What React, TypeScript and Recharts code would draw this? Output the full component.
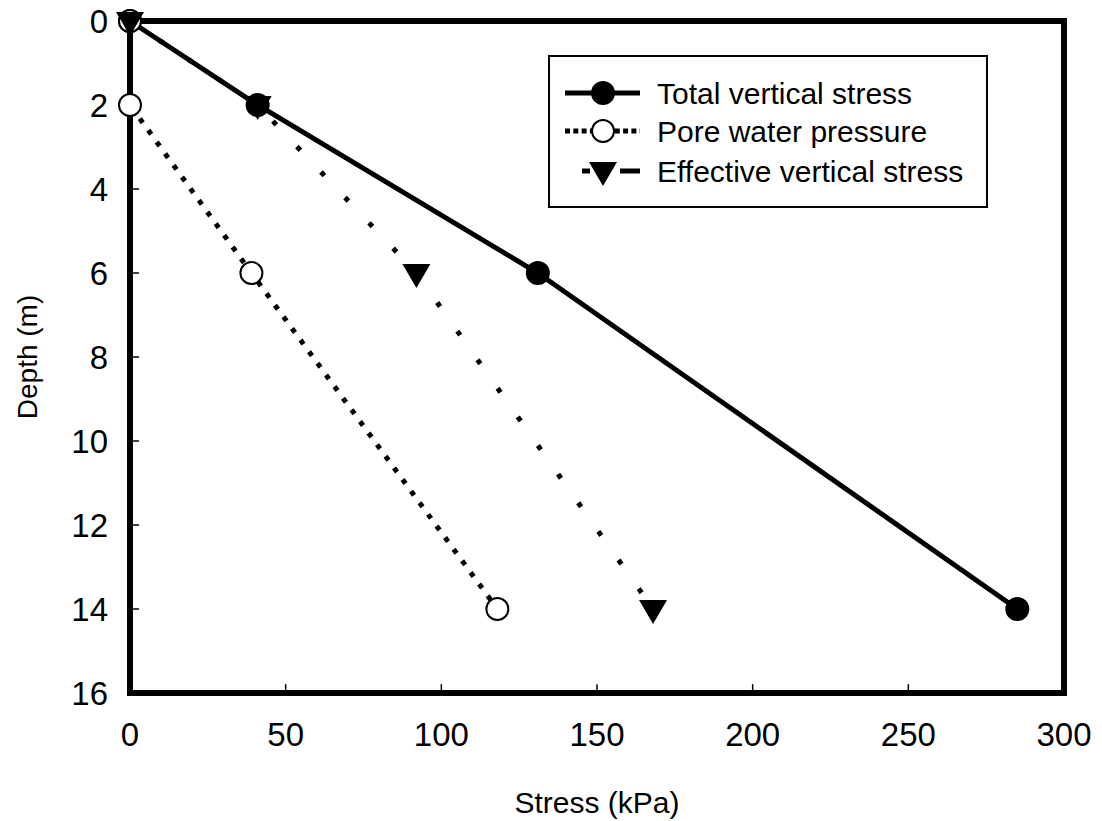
import React from 'react';
import { ScatterChart, Scatter, XAxis, YAxis, ReferenceLine, Legend } from 'recharts';

const FONT = '"Liberation Sans", Arial, Helvetica, sans-serif';

// Depth of each reading (m)
const depths = [0, 2, 6, 14];
// Stresses (kPa)
const totalVertical = [0, 41, 131, 285];
const poreWater = [0, 0, 39, 118];
const effectiveVertical = [0, 41, 92, 168];

const stressTicks = [0, 50, 100, 150, 200, 250, 300];
const depthTicks = [0, 2, 4, 6, 8, 10, 12, 14, 16];

const seriesNames = ['Total vertical stress', 'Pore water pressure', 'Effective vertical stress'];

const toPoints = (vals: number[]) => vals.map((v, i) => ({ x: v, y: depths[i] }));
const totalData = toPoints(totalVertical);
const poreData = toPoints(poreWater);
const effectiveData = toPoints(effectiveVertical);

// inward tick-mark length, in axis units (about 9 px)
const X_TICK_LEN = 0.21;
const Y_TICK_LEN = 2.9;

const FilledCircle = (p: any) => <circle cx={p.cx} cy={p.cy} r={12} fill="#000" />;
const OpenCircle = (p: any) => (
  <circle cx={p.cx} cy={p.cy} r={11} fill="#fff" stroke="#000" strokeWidth={2} />
);
const DownTriangle = (p: any) => (
  <path
    d={`M${p.cx - 14},${p.cy - 9} L${p.cx + 14},${p.cy - 9} L${p.cx},${p.cy + 15} Z`}
    fill="#000"
  />
);

const XTick = (props: any) => {
  const { x, y, payload } = props;
  return (
    <text x={x} y={y} dy="0.71em" textAnchor="middle" fontSize={33} fontFamily={FONT} fill="#000">
      {payload.value}
    </text>
  );
};

const YTick = (props: any) => {
  const { x, y, payload } = props;
  return (
    <text x={x} y={y} dy="0.36em" textAnchor="end" fontSize={33} fontFamily={FONT} fill="#000">
      {payload.value}
    </text>
  );
};

const XLabel = (props: any) => {
  const vb = props.viewBox || {};
  return (
    <text
      x={vb.x + vb.width / 2}
      y={vb.y + 109}
      dy="0.36em"
      textAnchor="middle"
      fontSize={30}
      fontFamily={FONT}
      fill="#000"
    >
      Stress (kPa)
    </text>
  );
};

const YLabel = (props: any) => {
  const vb = props.viewBox || {};
  const cx = vb.x + 27;
  const cy = vb.y + vb.height / 2;
  return (
    <text
      x={cx}
      y={cy}
      dy="0.36em"
      textAnchor="middle"
      fontSize={28}
      fontFamily={FONT}
      fill="#000"
      transform={`rotate(-90, ${cx}, ${cy})`}
    >
      Depth (m)
    </text>
  );
};

const LegendBox = () => {
  const rows = [38, 76, 116];
  return (
    <svg width={440} height={153} style={{ display: 'block' }}>
      <rect x={1} y={1} width={438} height={151} fill="#fff" stroke="#000" strokeWidth={2} />
      <line x1={17} x2={92} y1={rows[0]} y2={rows[0]} stroke="#000" strokeWidth={5} />
      <circle cx={55} cy={rows[0]} r={12} fill="#000" />
      <line x1={17} x2={92} y1={rows[1]} y2={rows[1]} stroke="#000" strokeWidth={5} strokeDasharray="5 3.3" />
      <circle cx={55} cy={rows[1]} r={11} fill="#fff" stroke="#000" strokeWidth={2} />
      <line x1={34} x2={42} y1={rows[2]} y2={rows[2]} stroke="#000" strokeWidth={5} />
      <line x1={72} x2={92} y1={rows[2]} y2={rows[2]} stroke="#000" strokeWidth={5} />
      <path d={`M${55 - 14},${rows[2] - 9} L${55 + 14},${rows[2] - 9} L55,${rows[2] + 15} Z`} fill="#000" />
      {seriesNames.map((n, i) => (
        <text key={n} x={109} y={rows[i]} dy="0.36em" fontSize={30} fontFamily={FONT} fill="#000">
          {n}
        </text>
      ))}
    </svg>
  );
};

const frame = { stroke: '#000', strokeWidth: 6, strokeLinecap: 'square' as const };

export default function App() {
  return (
    <div style={{ width: 1102, height: 821, position: 'relative', margin: '-8px 0 0 -8px' }}>
      <ScatterChart width={1102} height={821} margin={{ top: 21, right: 38, bottom: 0, left: 0 }}>
        <XAxis
          type="number"
          dataKey="x"
          domain={[0, 300]}
          ticks={stressTicks}
          interval={0}
          height={128}
          tickSize={0}
          tickMargin={30}
          tick={<XTick />}
          axisLine={false}
          tickLine={false}
          label={<XLabel />}
        />
        <YAxis
          type="number"
          dataKey="y"
          domain={[0, 16]}
          reversed
          ticks={depthTicks}
          interval={0}
          width={130}
          tickSize={0}
          tickMargin={22}
          tick={<YTick />}
          axisLine={false}
          tickLine={false}
          label={<YLabel />}
        />
        {depthTicks.map((t) => (
          <ReferenceLine
            key={`yt${t}`}
            segment={[{ x: 0, y: t }, { x: Y_TICK_LEN, y: t }]}
            stroke="#000"
            strokeWidth={1.5}
          />
        ))}
        {stressTicks.map((t) => (
          <ReferenceLine
            key={`xt${t}`}
            segment={[{ x: t, y: 16 }, { x: t, y: 16 - X_TICK_LEN }]}
            stroke="#000"
            strokeWidth={1.5}
          />
        ))}
        <ReferenceLine y={0} {...frame} />
        <ReferenceLine y={16} {...frame} />
        <ReferenceLine x={0} {...frame} />
        <ReferenceLine x={300} {...frame} />
        <Legend
          layout="horizontal"
          verticalAlign="middle"
          align="center"
          content={<LegendBox />}
          wrapperStyle={{ position: 'absolute', left: 548, top: 55, width: 440, height: 153 }}
        />
        <Scatter
          name={seriesNames[0]}
          data={totalData}
          line={{ stroke: '#000', strokeWidth: 5 }}
          lineType="joint"
          shape={<FilledCircle />}
          isAnimationActive={false}
          legendType="none"
        />
        <Scatter
          name={seriesNames[1]}
          data={poreData}
          line={{ stroke: '#000', strokeWidth: 5, strokeDasharray: '5 9.4' }}
          lineType="joint"
          shape={<OpenCircle />}
          isAnimationActive={false}
          legendType="none"
        />
        <Scatter
          name={seriesNames[2]}
          data={effectiveData}
          line={{ stroke: '#000', strokeWidth: 5, strokeDasharray: '5 30' }}
          lineType="joint"
          shape={<DownTriangle />}
          isAnimationActive={false}
          legendType="none"
        />
      </ScatterChart>
    </div>
  );
}
